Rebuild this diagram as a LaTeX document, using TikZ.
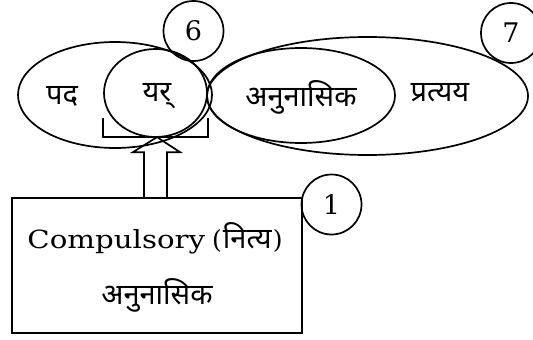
\documentclass[tikz,border=0pt]{standalone}
\usepackage{fontspec}
\newfontfamily\deva[Script=Devanagari]{Noto Sans}
\newfontfamily\latn{DejaVu Serif}
\usetikzlibrary{shapes.geometric,calc}
\tikzset{
  outl/.style={draw, line width=1.7pt},
  oval/.style={outl, ellipse, inner sep=0pt},
  numc/.style={outl, circle, inner sep=0pt, minimum size=60pt, font=\latn\fontsize{27}{30}\selectfont},
  dtext/.style={font=\deva\fontsize{29}{33}\selectfont, inner sep=0pt},
}
\begin{document}
\begin{tikzpicture}[x=1pt,y=-1pt]
\useasboundingbox (0,0) rectangle (533,340);
% ellipses
\node[oval, minimum width=194pt, minimum height=106pt] (pada) at (115,95) {};
\node[oval, minimum width=103pt, minimum height=88pt] (yar) at (155.5,93) {};
\node[oval, minimum width=321pt, minimum height=118pt] (pratyaya) at (367.5,96) {};
\node[oval, minimum width=188pt, minimum height=95pt] (anu) at (301,95.5) {};
% texts
\node[dtext] (padat) at (62,96) {पद};
\node[dtext] (yart) at (157,96) {यर्};
\node[dtext] (anut) at (301,97) {अनुनासिक};
\node[dtext] (pratt) at (440,93) {प्रत्यय};
% number circles
\node[numc] (c6) at (193.5,31) {6};
\node[numc] (c7) at (511,33) {7};
\node[numc] (c1) at (331.5,204.5) {1};
% box
\node[outl, rectangle, minimum width=290pt, minimum height=135pt, inner sep=0pt] (box) at (157,265.5) {};
\node[inner sep=0pt, font=\latn\fontsize{25}{30}\selectfont] (comp) at (155,238) {\scalebox{1.17}[1]{Compulsory}\hspace{7pt}(\kern1pt{\deva\fontsize{29}{33}\selectfont नित्य}\kern1pt)};
\node[dtext] (boxanu) at (157,295) {अनुनासिक};
% bracket
\draw[outl] ($(yar.west)+(0,25)$) -- ($(yar.west)+(0,44)$) -- ($(yar.east)+(0,44)$) -- ($(yar.east)+(0,25)$);
% hollow arrow
\draw[outl, line join=miter] (box.north) ++(-13,0) coordinate (a1)
  -- ++(0,-45) -- ++(-11,0) -- ($(box.north)+(0,-60)$) coordinate (tip)
  -- ($(box.north)+(23,-45)$) -- ++(-13,0) -- ($(box.north)+(10,0)$);
\end{tikzpicture}
\end{document}
